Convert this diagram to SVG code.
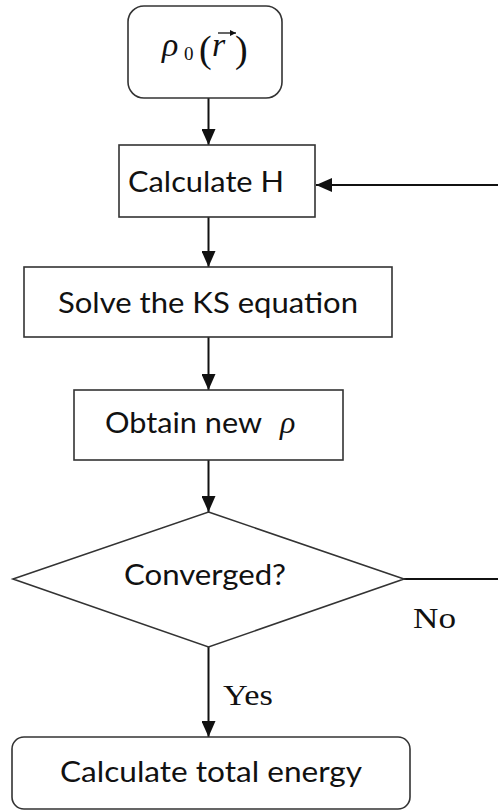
<svg xmlns="http://www.w3.org/2000/svg" width="498" height="811" viewBox="0 0 498 811">
<style>
.box{fill:#fff;stroke:#333;stroke-width:1.6}
.lbl{font-family:Lato,"Open Sans","Liberation Sans",sans-serif;font-size:28px;fill:#111}
.ser{font-family:"Liberation Serif","DejaVu Serif",serif;fill:#111}
.con{fill:none;stroke:#111;stroke-width:2}
</style>
<defs>
<marker id="ah" markerUnits="userSpaceOnUse" markerWidth="16" markerHeight="14" refX="16" refY="7" orient="auto">
<path d="M0,0 L16,7 L0,14 z" fill="#111"/>
</marker>
<marker id="vec" markerUnits="userSpaceOnUse" markerWidth="6" markerHeight="6" refX="6" refY="3" orient="auto">
<path d="M0,0 L6,3 L0,6 z" fill="#111"/>
</marker>
</defs>
<rect width="498" height="811" fill="#fff"/>
<g id="connectors">
<line class="con" x1="208.5" y1="98" x2="208.5" y2="145" marker-end="url(#ah)"/>
<line class="con" x1="208.5" y1="217" x2="208.5" y2="267" marker-end="url(#ah)"/>
<line class="con" x1="208.5" y1="337" x2="208.5" y2="390" marker-end="url(#ah)"/>
<line class="con" x1="208.5" y1="460" x2="208.5" y2="512" marker-end="url(#ah)"/>
<line class="con" x1="208.5" y1="647" x2="208.5" y2="737" marker-end="url(#ah)"/>
<line class="con" x1="404" y1="579" x2="498" y2="579"/>
<line class="con" x1="498" y1="185" x2="316" y2="185" marker-end="url(#ah)"/>
<text class="ser" x="413" y="628" font-size="29" textLength="43" lengthAdjust="spacingAndGlyphs">No</text>
<text class="ser" x="223" y="705" font-size="29" textLength="50" lengthAdjust="spacingAndGlyphs">Yes</text>
</g>
<g id="start">
<rect class="box" x="128" y="6" width="154" height="92" rx="16"/>
<text class="ser" y="56" font-size="34"><tspan x="162" font-style="italic">ρ</tspan><tspan x="184" y="60" font-size="19">0</tspan><tspan x="199" y="62" font-size="38">(</tspan><tspan x="212" y="56" font-style="italic">r</tspan><tspan x="235" y="62" font-size="38">)</tspan></text>
<line x1="218" y1="33" x2="236" y2="33" stroke="#111" stroke-width="1.3" marker-end="url(#vec)"/>
</g>
<g id="calcH">
<rect class="box" x="119" y="145" width="196" height="72"/>
<text class="lbl" x="128" y="192" textLength="156" lengthAdjust="spacingAndGlyphs">Calculate  H</text>
</g>
<g id="solve">
<rect class="box" x="24" y="267" width="368" height="70"/>
<text class="lbl" x="58" y="313" textLength="300" lengthAdjust="spacingAndGlyphs">Solve the KS equation</text>
</g>
<g id="obtain">
<rect class="box" x="74" y="390" width="269" height="70"/>
<text class="lbl" x="105" y="433" textLength="157" lengthAdjust="spacingAndGlyphs">Obtain new</text>
<text class="ser" x="280" y="433" font-size="32" font-style="italic">ρ</text>
</g>
<g id="converged">
<polygon class="box" points="208.5,512 404,579 208.5,647 13,579"/>
<text class="lbl" x="124" y="585" textLength="162" lengthAdjust="spacingAndGlyphs">Converged?</text>
</g>
<g id="energy">
<rect class="box" x="12" y="737" width="398" height="72" rx="12"/>
<text class="lbl" x="60" y="782" textLength="302" lengthAdjust="spacingAndGlyphs">Calculate  total energy</text>
</g>
</svg>
